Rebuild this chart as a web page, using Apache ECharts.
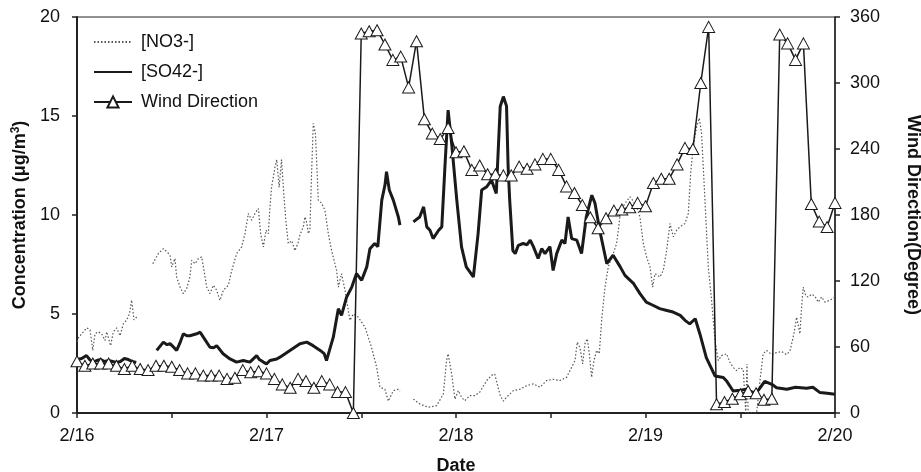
<!DOCTYPE html>
<html>
<head>
<meta charset="utf-8">
<script src="https://cdn.jsdelivr.net/npm/echarts@6/dist/echarts.min.js"></script>
<style>html,body{margin:0;padding:0;background:#fff}#c{width:921px;height:472px}</style>
</head>
<body>
<div id="c"></div>
<script>
// x values are hours since 2/16 00:00
var dateLabels = ['2/16', '2/17', '2/18', '2/19', '2/20'];
var seriesNames = ['[NO3-]', '[SO42-]', 'Wind Direction'];

var no3Time = [0,0.17,0.6,1.23,1.65,2.0,2.28,2.7,3.12,3.55,3.76,4.26,4.6,5.02,5.45,5.87,6.29,6.63,6.92,7.22,7.56,8.5,
  9.6,10.3,10.94,11.36,11.78,12.0,12.41,12.62,13.05,13.47,13.89,14.3,14.52,14.95,15.37,15.79,16.0,16.42,16.84,17.27,17.69,18.1,18.54,19.17,19.6,20.22,20.86,21.28,21.7,22.12,22.55,22.97,23.26,23.6,23.94,24.23,24.44,24.65,24.87,25.07,25.3,25.6,25.9,26.2,26.5,26.76,27.2,27.6,28.0,28.24,28.66,28.87,29.1,29.3,29.5,29.7,29.93,30.2,30.56,30.98,31.4,31.83,32.25,32.88,33.1,33.5,33.94,34.57,35.0,35.6,36.47,37.3,37.95,38.37,39.0,39.43,40.06,40.7,40.9,41.7,
  42.6,43.4,44.5,45.55,46.4,46.8,47.0,47.45,47.87,48.3,48.7,49.1,49.77,50.4,51.0,51.9,52.5,52.9,53.6,54.0,54.4,55.26,56.1,56.95,57.8,58.64,59.48,60.3,61.17,62.0,62.65,63.07,63.36,63.7,64.04,64.33,64.63,64.88,65.18,65.47,65.81,66.15,66.44,66.87,67.29,67.92,68.34,68.56,68.85,69.4,70.03,70.45,70.88,71.3,71.72,72.14,72.57,72.9,73.2,73.83,74.25,74.68,75.1,75.52,75.94,76.36,77.0,77.42,77.72,78.05,78.48,78.81,79.1,79.53,79.95,80.37,80.8,81.22,81.64,82.27,82.7,83.12,83.54,83.96,84.38,84.7,84.85,85.0,86.07,86.5,86.9,87.34,87.97,88.6,89.24,89.87,90.3,90.8,91.14,91.56,91.77,91.98,92.32,92.6,93.04,93.46,93.88,94.3,94.73,95.36,96.0];
var no3Conc = [3.6,3.8,4.0,4.3,4.2,3.16,4.0,4.1,4.0,3.66,4.1,3.4,4.1,4.3,3.9,4.5,4.7,5.0,5.7,4.7,4.85,null,
  7.54,8.05,8.3,8.15,7.97,7.38,7.8,6.87,6.36,6.03,6.28,6.87,7.71,7.54,7.8,7.88,7.4,6.36,6.03,6.45,6.2,5.69,6.2,6.45,7.2,8.05,8.39,9.06,10.08,9.74,10.08,10.33,9.06,8.39,9.23,9.06,10.41,11.43,11.93,12.4,12.8,11.4,12.8,11.0,9.5,8.56,8.7,8.2,8.6,9.0,9.4,9.9,9.6,9.06,9.3,12.0,14.63,14.1,10.75,10.6,10.24,9.06,8.2,7.2,6.36,7.04,6.2,4.68,5.0,4.85,4.34,3.32,2.31,1.3,1.2,0.6,1.13,1.2,1.1,null,
  0.7,0.46,0.29,0.37,0.96,2.65,2.99,1.97,0.7,1.13,0.8,0.62,0.88,0.88,1.05,1.64,1.9,1.97,0.88,0.6,0.8,1.13,1.2,1.38,1.47,1.3,1.64,1.7,1.64,1.8,2.31,2.65,3.58,3.3,2.48,3.5,3.75,3.0,1.8,2.65,3.16,3.0,4.68,6.36,7.38,8.05,8.56,9.23,10.24,10.58,10.92,10.7,10.4,9.9,8.56,7.88,7.38,6.36,7.04,6.87,7.2,8.22,9.57,8.9,9.23,9.4,9.57,10.08,12.1,13.45,14.46,14.89,14.13,10.75,7.38,5.69,3.66,2.65,2.9,2.99,2.55,2.3,2.14,2.3,2.2,0.0,2.48,0.0,0.0,1.64,2.99,3.16,2.95,3.05,3.1,2.95,3.14,4.0,4.84,4.0,5.35,6.36,5.9,5.86,6.0,5.9,5.6,5.86,5.6,5.7,5.86];

var so4Time = [0,0.6,1.2,1.6,2.0,2.5,3.0,3.5,4.0,4.5,5.0,5.5,6.0,6.5,7.0,7.5,8.5,
  10.1,10.94,11.4,11.78,12.3,12.62,13.0,13.47,13.9,14.3,15.16,15.6,16.0,16.84,17.3,17.69,18.5,19.38,20.2,21.06,21.9,22.75,23.1,23.6,24.0,24.44,25.3,25.7,26.97,28.24,29.1,29.9,30.8,31.3,31.6,32.0,32.46,32.8,33.1,33.5,34.15,34.8,35.4,36.05,36.7,37.1,37.7,38.1,38.6,39.0,39.2,39.55,40.06,40.7,40.9,41.7,
  42.6,43.4,43.9,44.3,44.7,45.1,45.8,46.2,46.6,47.0,47.45,48.1,48.7,49.3,50.2,50.8,51.25,51.9,52.5,53.1,53.6,54.0,54.4,54.6,54.8,55.2,55.5,55.9,56.5,57.0,57.4,57.8,58.4,58.85,59.27,59.9,60.3,60.75,61.4,61.8,62.2,62.65,63.3,63.9,64.5,65.2,65.6,66.2,67.1,67.9,68.8,69.4,70.5,71.3,72.1,73.0,73.8,74.7,75.5,76.4,77.0,77.6,78.3,78.9,79.7,80.8,81.85,82.3,83.1,84.0,84.8,85.65,86.3,87.1,88.0,88.6,89.9,91.0,92.4,93.2,94.1,95.0,96.0];
var so4Conc = [2.7,2.75,2.9,2.7,2.57,2.65,2.7,2.6,2.65,2.6,2.55,2.6,2.75,2.7,2.6,2.55,null,
  3.16,3.58,3.45,3.5,3.3,3.16,3.5,4.0,3.9,3.9,4.0,4.08,3.83,3.32,3.3,3.4,2.99,2.73,2.57,2.65,2.57,2.9,2.7,2.57,2.48,2.65,2.73,2.82,3.16,3.5,3.58,3.4,3.16,3.0,2.65,3.2,3.83,4.6,5.27,4.93,5.86,6.36,7.04,6.7,7.38,8.3,8.56,8.4,10.75,11.5,12.19,11.26,10.75,9.9,9.49,null,
  9.65,9.9,10.41,9.4,9.23,8.81,9.23,9.4,12.44,15.3,13.62,10.75,8.39,7.38,6.87,9.06,11.26,11.43,11.76,11.09,15.48,15.98,15.5,12.44,10.75,8.2,8.05,8.47,8.56,8.5,8.73,8.4,7.8,8.3,8.05,8.4,7.2,8.05,8.73,8.56,9.9,8.81,8.73,8.05,9.9,11.0,10.6,9.23,7.54,7.97,7.38,6.95,6.53,6.03,5.6,5.43,5.27,5.18,5.1,4.93,4.68,4.5,4.76,3.98,2.8,1.87,1.79,1.6,1.11,1.15,1.2,1.03,1.15,1.6,1.45,1.28,1.2,1.3,1.25,1.3,1.03,1.0,0.95];

// hourly wind direction (degrees), hours 0..96
var windDir = [47,43,45,45,45,43,40,43,40,39,43,43,42,39,36,36,34,34,34,31,32,39,37,38,
  36,31,26,23,31,29,23,29,26,19,19,0,345,347,348,335,321,324,296,338,267,254,249,259,
  237,238,221,225,217,217,216,216,224,222,226,231,231,221,206,200,189,178,168,177,184,185,187,191,
  188,209,213,213,226,241,240,300,351,8,10,13,17,20,18,12,13,344,336,321,336,190,174,169,
  191];

function pairs(t, v) { return t.map(function (x, i) { return [x, v[i]]; }); }
var windData = windDir.map(function (v, i) { return [i, v]; });

var FONT = '"Liberation Sans", Arial, sans-serif';
var chart = echarts.init(document.getElementById('c'));
chart.setOption({
  animation: false,
  backgroundColor: '#fff',
  textStyle: { fontFamily: FONT },
  grid: { left: 77, right: 86, top: 17, bottom: 59, containLabel: false, outerBoundsMode: 'none',
    show: true, borderColor: '#222', borderWidth: 1 },
  legend: {
    orient: 'vertical', left: 93, top: 33, padding: 0, itemWidth: 38, itemHeight: 14, itemGap: 12,
    textStyle: { fontFamily: FONT, fontSize: 18, color: '#111', padding: [0, 0, 0, 4] },
    data: [
      { name: seriesNames[0], itemStyle: { opacity: 0 } },
      { name: seriesNames[1], itemStyle: { opacity: 0 } },
      { name: seriesNames[2] }
    ]
  },
  xAxis: {
    type: 'value', min: 0, max: 96, interval: 12,
    name: 'Date', nameLocation: 'middle', nameGap: 44,
    nameTextStyle: { fontFamily: FONT, fontSize: 18, fontWeight: 'bold', color: '#111' },
    axisLine: { lineStyle: { color: '#222', width: 2 } },
    axisTick: { show: true, length: 5, lineStyle: { color: '#222', width: 1.5 } },
    splitLine: { show: false },
    axisLabel: {
      fontFamily: FONT, fontSize: 18, color: '#111', margin: 14, showMinLabel: true, showMaxLabel: true,
      formatter: function (v) { return v % 24 === 0 ? dateLabels[v / 24] : ''; }
    }
  },
  yAxis: [{
    type: 'value', min: 0, max: 20, interval: 5, position: 'left',
    name: 'Concentration (μg/m{sup|3})', nameLocation: 'middle', nameGap: 43, nameRotate: 90,
    nameTextStyle: { fontFamily: FONT, fontSize: 18, fontWeight: 'bold', color: '#111',
      rich: { sup: { fontFamily: FONT, fontSize: 12, fontWeight: 'bold', verticalAlign: 'top', padding: [0, 0, 8, 0] } } },
    axisLine: { show: true, lineStyle: { color: '#222', width: 2 } },
    axisTick: { show: true, length: 5, lineStyle: { color: '#222', width: 1.5 } },
    splitLine: { show: false },
    axisLabel: { fontFamily: FONT, fontSize: 18, color: '#111', margin: 17 }
  }, {
    type: 'value', min: 0, max: 360, interval: 60, position: 'right',
    name: 'Wind Direction(Degree)', nameLocation: 'middle', nameGap: 69, nameRotate: -90,
    nameTextStyle: { fontFamily: FONT, fontSize: 18, fontWeight: 'bold', color: '#111' },
    axisLine: { show: true, lineStyle: { color: '#222', width: 1.5 } },
    axisTick: { show: true, length: 5, lineStyle: { color: '#222', width: 1.5 } },
    splitLine: { show: false },
    axisLabel: { fontFamily: FONT, fontSize: 18, color: '#111', margin: 15 }
  }],
  series: [{
    name: seriesNames[0], type: 'line', yAxisIndex: 0, symbol: 'none', connectNulls: false,
    lineStyle: { color: '#555', width: 1.2, type: [1.5, 2] }, itemStyle: { color: '#555' },
    data: pairs(no3Time, no3Conc), z: 2
  }, {
    name: seriesNames[1], type: 'line', yAxisIndex: 0, symbol: 'none', connectNulls: false,
    lineStyle: { color: '#1a1a1a', width: 3 }, itemStyle: { color: '#1a1a1a' },
    data: pairs(so4Time, so4Conc), z: 3
  }, {
    name: seriesNames[2], type: 'line', yAxisIndex: 1, symbol: 'triangle', symbolSize: [12, 11], showAllSymbol: true,
    lineStyle: { color: '#1a1a1a', width: 1.5 },
    itemStyle: { color: '#fff', borderColor: '#1a1a1a', borderWidth: 1 },
    data: windData, z: 4
  }]
});
</script>
</body>
</html>
